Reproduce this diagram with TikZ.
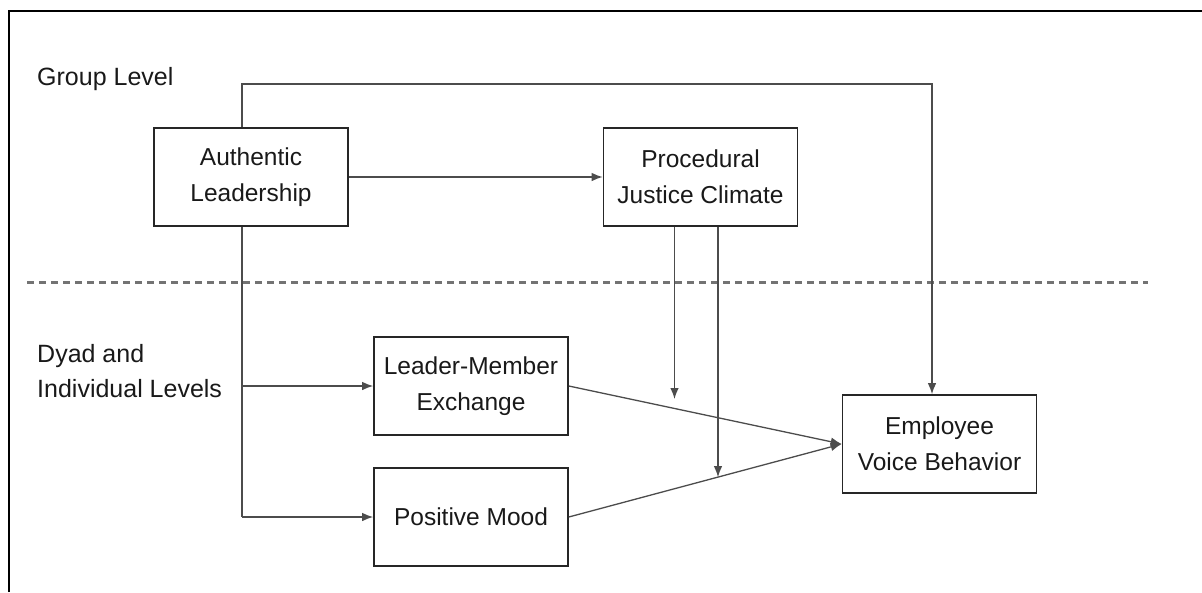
\documentclass[tikz,border=0pt]{standalone}
\usepackage{fontspec}
\setmainfont{Liberation Sans}
\usepackage{tikz}
\usetikzlibrary{arrows.meta}
\usetikzlibrary{positioning}
\usetikzlibrary{calc}

\tikzset{
  box/.style={draw=black!85,line width=1.6pt,minimum width=194pt,minimum height=98pt,
              align=center,inner sep=0pt,font=\fontsize{24.5}{36}\selectfont,text=black!90},
  lvl/.style={anchor=west,align=left,inner sep=0pt,font=\fontsize{25}{35}\selectfont,text=black!90},
  conn/.style={draw=black!70,line width=1.3pt},
  arr/.style={conn,-{Latex[length=11pt,width=8.5pt]}}
}

\begin{document}
\begin{tikzpicture}[x=1pt,y=-1pt]
        \useasboundingbox (0,0) rectangle (1202,592);
        % frame
        \draw[line width=2pt] (9,592) -- (9,11) -- (1203,11);
        % level divider
        \draw[black!55,line width=3pt,dash pattern=on 7pt off 5pt] (27,282) -- (1148,282);
        \node[lvl] (grp) at (37,79) {Group Level};
        \node[lvl] (dyad) at (37,371) {Dyad and\\Individual Levels};
        % constructs
        \node[box] (al) at (251,177) {Authentic\\Leadership};
        \node[box] (pjc) at (700.5,177) {Procedural\\Justice Climate};
        \node[box] (lmx) at (471,386) {Leader-Member\\Exchange};
        \node[box] (pm) at (471,517) {Positive Mood};
        \node[box] (evb) at (939.5,444) {Employee\\Voice Behavior};
        % paths
        \coordinate (top) at (932,84);
        \coordinate (trunk) at (242,0);
        \draw[arr] ([xshift=-9pt]al.north) |- (top) -- ([xshift=-7.5pt]evb.north);
        \draw[arr] (al) -- (pjc);
        \draw[conn] ([xshift=-9pt]al.south) -- (trunk |- pm.west);
        \draw[arr] (trunk |- lmx.west) -- (lmx.west);
        \draw[arr] (trunk |- pm.west) -- (pm.west);
        \draw[arr] (lmx.east) -- (evb.west);
        \draw[arr] (pm.east) -- (evb.west);
        % moderation
        \path (pm.east) -- (evb.west) coordinate[pos=0.546] (mod);
        \coordinate (modl) at (674.5,399);
        \draw[arr] (pjc.south -| modl) -- (modl);
        \draw[arr] ([xshift=17.5pt]pjc.south) -- ([xshift=17.5pt]pjc.south |- mod);
\end{tikzpicture}
\end{document}
